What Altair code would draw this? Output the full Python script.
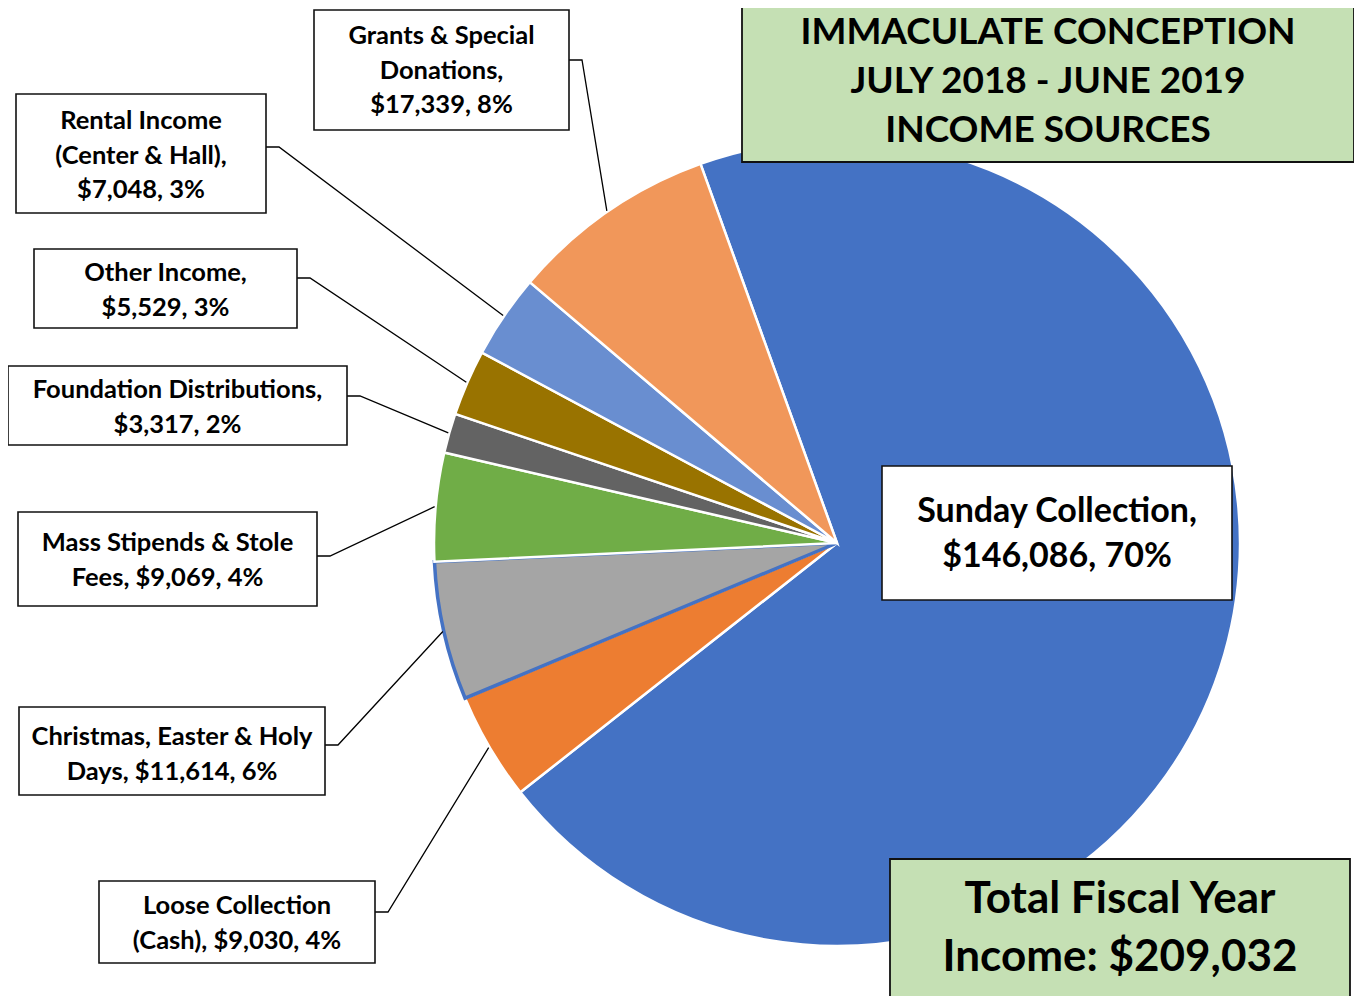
import math
import altair as alt
import pandas as pd

# ---------------- data ----------------
categories = ["Sunday Collection", "Loose Collection (Cash)", "Christmas, Easter & Holy Days",
              "Mass Stipends & Stole Fees", "Foundation Distributions", "Other Income",
              "Rental Income (Center & Hall)", "Grants & Special Donations"]
values = [146086, 9030, 11614, 9069, 3317, 5529, 7048, 17339]
label_templates = [
    "Sunday Collection,\n{amt}, {pct}",
    "Loose Collection\n(Cash), {amt}, {pct}",
    "Christmas, Easter & Holy\nDays, {amt}, {pct}",
    "Mass Stipends & Stole\nFees, {amt}, {pct}",
    "Foundation Distributions,\n{amt}, {pct}",
    "Other Income,\n{amt}, {pct}",
    "Rental Income\n(Center & Hall),\n{amt}, {pct}",
    "Grants & Special\nDonations,\n{amt}, {pct}",
]
title_lines = "IMMACULATE CONCEPTION\nJULY 2018 - JUNE 2019\nINCOME SOURCES"

# ---------------- styles / layout ----------------
fills = ["#4472C4", "#ED7D31", "#A5A5A5", "#70AD47", "#636363", "#997300", "#698ED0", "#F1975A"]
strokes = ["white", "white", "#4472C4", "white", "white", "white", "white", "white"]
stroke_w = [2.5, 2.5, 3.5, 2.5, 2.5, 2.5, 2.5, 2.5]

W, H = 1346, 988          # plot area
OX, OY = 8, 8             # page offset of the plot area
CX, CY, R = 837, 543, 403  # pie centre/radius in page pixels
ROT = -19.8                # start angle of first slice (deg, clockwise from 12 o'clock)
FONT = "Lato"

# label boxes in page pixels: x1, x2, y1, y2, first-line y, anchor y (leader) or None
boxes = [
    (882, 1232, 466, 600, 512, None),
    (99, 375, 881, 963, 906, 912),
    (19, 325, 707, 795, 737, 745),
    (18, 317, 512, 606, 543, 556),
    (8, 347, 366, 445, 390, 396),
    (34, 297, 249, 328, 273, 278),
    (16, 266, 94, 213, 121, 147),
    (314, 569, 10, 130, 36, 60),
]

XS = alt.Scale(domain=[OX, OX + W], nice=False, zero=False)
YS = alt.Scale(domain=[OY, OY + H], nice=False, zero=False, reverse=True)

total = sum(values)
texts = []
for t, v in zip(label_templates, values):
    texts.append(t.format(amt=f"${v:,}", pct=f"{round(v / total * 100)}%"))

pie_df = pd.DataFrame({
    "cat": categories, "value": values, "order": list(range(len(values))),
    "fill": fills, "stroke": strokes, "sw": stroke_w,
})

# ---------------- leader lines (end on the pie edge at each slice mid-angle) ----------------
line_rows = []
cum = 0
for i, v in enumerate(values):
    mid = cum + v / 2
    cum += v
    b = boxes[i]
    if b[5] is None:
        continue
    ang = math.radians(ROT) + 2 * math.pi * mid / total
    ex = CX + (R + 1) * math.sin(ang)
    ey = CY - (R + 1) * math.cos(ang)
    line_rows += [
        {"cat": categories[i], "k": 0, "x": b[1], "y": b[5]},
        {"cat": categories[i], "k": 1, "x": b[1] + 13, "y": b[5]},
        {"cat": categories[i], "k": 2, "x": ex, "y": ey},
    ]
lines_df = pd.DataFrame(line_rows)

box_df = pd.DataFrame({
    "cat": categories,
    "x1": [b[0] for b in boxes], "x2": [b[1] for b in boxes],
    "y1": [b[2] for b in boxes], "y2": [b[3] for b in boxes],
    "tx": [(b[0] + b[1]) / 2 for b in boxes], "ty": [b[4] for b in boxes],
    "text": texts,
})

# ---------------- layers ----------------
start = 2 * math.pi + math.radians(ROT)
pie = alt.Chart(pie_df).mark_arc(
    x=CX - OX, y=CY - OY, outerRadius=R
).encode(
    theta=alt.Theta("value:Q", stack=True, scale=alt.Scale(range=[start, start + 2 * math.pi])),
    order=alt.Order("order:Q"),
    color=alt.Color("fill:N", scale=None),
    stroke=alt.Stroke("stroke:N", scale=None),
    strokeWidth=alt.StrokeWidth("sw:Q", scale=None),
)

leaders = alt.Chart(lines_df).mark_line(color="black", strokeWidth=1.3).encode(
    x=alt.X("x:Q", scale=XS, axis=None),
    y=alt.Y("y:Q", scale=YS, axis=None),
    detail="cat:N",
    order="k:Q",
)

def rect_layer(df, fill, sw=1.6):
    return alt.Chart(df).mark_rect(fill=fill, stroke="#111111", strokeWidth=sw, clip=True).encode(
        x=alt.X("x1:Q", scale=XS, axis=None), x2="x2:Q",
        y=alt.Y("y1:Q", scale=YS, axis=None), y2="y2:Q",
    )

def text_layer(df, size, lh):
    return alt.Chart(df).mark_text(
        font=FONT, fontWeight="bold", fontSize=size, lineHeight=lh, lineBreak="\n",
        align="center", baseline="middle", color="black",
    ).encode(
        x=alt.X("tx:Q", scale=XS, axis=None),
        y=alt.Y("ty:Q", scale=YS, axis=None),
        text="text:N",
    )

label_boxes = rect_layer(box_df, "white")
small_texts = text_layer(box_df.iloc[1:], 25.5, 34.5)
sunday_text = text_layer(box_df.iloc[:1], 34, 45)

title_df = pd.DataFrame({"x1": [742], "x2": [1354], "y1": [0], "y2": [162],
                         "tx": [1048], "ty": [33], "text": [title_lines]})
total_df = pd.DataFrame({"x1": [890], "x2": [1350], "y1": [859], "y2": [1010],
                         "tx": [1120], "ty": [900],
                         "text": [f"Total Fiscal Year\nIncome: ${total:,}"]})

title_box = rect_layer(title_df, "#C5E0B4", 1.8)
title_text = text_layer(title_df, 37, 49)
total_box = rect_layer(total_df, "#C5E0B4", 1.8)
total_text = text_layer(total_df, 44, 58)

chart = alt.layer(
    pie, leaders, label_boxes, small_texts, sunday_text,
    title_box, title_text, total_box, total_text,
).properties(width=W, height=H, padding=0).configure_view(stroke=None)

chart.save("out.html", embed_options={"renderer": "svg", "actions": False})
